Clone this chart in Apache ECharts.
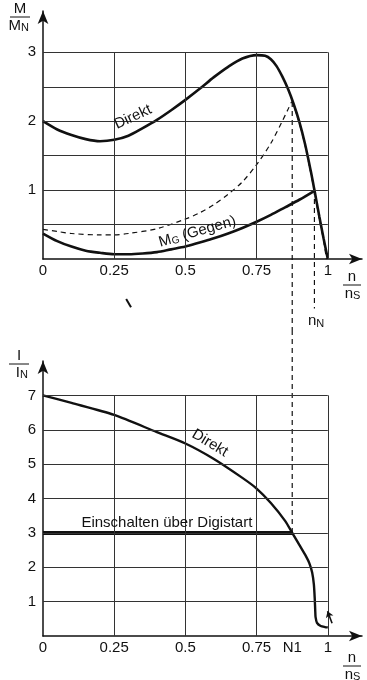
<!DOCTYPE html>
<html>
<head>
<meta charset="utf-8">
<script src="https://cdn.jsdelivr.net/npm/echarts@6/dist/echarts.min.js"></script>
<style>
html,body{margin:0;padding:0;background:#fff;}
#chart{width:367px;height:680px;}
</style>
</head>
<body>
<div id="chart"></div>
<script>
// ---- tick labels / grid levels ----
const xTicks = [0, 0.25, 0.5, 0.75, 1];
const xTickText = ['0', '0.25', '0.5', '0.75', '1'];
const torqueTicks = [1, 2, 3];
const torqueGridLevels = [0.5, 1, 1.5, 2, 2.5, 3];
const currentTicks = [1, 2, 3, 4, 5, 6, 7];
const speedN1 = 0.875;        // N1 (Digistart hand-over speed)
const speedNominal = 0.953;   // n_N

// ---- torque, direct start (M/MN) ----
const torqueDirektX = [0, 0.05, 0.10, 0.15, 0.20, 0.25, 0.30, 0.35, 0.40, 0.45, 0.50, 0.55, 0.60, 0.65, 0.70, 0.75, 0.78, 0.80, 0.82, 0.84, 0.86, 0.88, 0.90, 0.92, 0.94, 0.953, 0.97, 0.985, 1.0];
const torqueDirektY = [2.00, 1.88, 1.80, 1.74, 1.71, 1.73, 1.79, 1.90, 2.02, 2.16, 2.31, 2.47, 2.64, 2.79, 2.91, 2.96, 2.95, 2.90, 2.80, 2.65, 2.47, 2.25, 1.99, 1.67, 1.28, 1.00, 0.62, 0.30, 0.0];

// ---- torque with Digistart (dashed) ----
const torqueSoftX = [0, 0.05, 0.10, 0.20, 0.25, 0.30, 0.40, 0.50, 0.55, 0.60, 0.65, 0.70, 0.75, 0.80, 0.84, 0.86, 0.874, 0.89, 0.90, 0.92, 0.94, 0.953, 0.97, 0.985, 0.995];
const torqueSoftY = [0.43, 0.40, 0.37, 0.35, 0.35, 0.37, 0.44, 0.58, 0.67, 0.79, 0.94, 1.12, 1.37, 1.68, 2.00, 2.17, 2.28, 2.10, 1.97, 1.65, 1.25, 0.98, 0.58, 0.27, 0.0];

// ---- counter torque MG (Gegen) ----
const torqueLoadX = [0, 0.05, 0.10, 0.15, 0.20, 0.25, 0.30, 0.35, 0.40, 0.45, 0.50, 0.55, 0.60, 0.65, 0.70, 0.75, 0.80, 0.85, 0.90, 0.953];
const torqueLoadY = [0.37, 0.26, 0.18, 0.12, 0.09, 0.07, 0.07, 0.08, 0.10, 0.14, 0.18, 0.24, 0.30, 0.37, 0.45, 0.54, 0.64, 0.75, 0.86, 0.99];

// ---- current, direct start (I/IN) ----
const currentDirektX = [0, 0.10, 0.25, 0.40, 0.50, 0.60, 0.70, 0.75, 0.80, 0.85, 0.875, 0.90, 0.924, 0.935, 0.945, 0.951, 0.954, 0.956, 0.957, 0.962, 0.975, 0.99, 1.0];
const currentDirektY = [7.0, 6.78, 6.43, 5.93, 5.60, 5.15, 4.60, 4.29, 3.87, 3.35, 3.0, 2.65, 2.31, 2.12, 1.85, 1.5, 1.1, 0.7, 0.55, 0.38, 0.29, 0.26, 0.25];

// ---- current limit with Digistart ----
const currentLimitX = [0, speedN1];
const currentLimitY = [3, 3];

// ---- annotation anchors (data space) ----
const nominalLabelAt = [0.956, -0.9];
const scanMarkFrom = [0.292, -0.58];
const scanMarkTo = [0.309, -0.70];

const zip = (xs, ys) => xs.map((x, i) => [x, ys[i]]);
const FONT = 'Liberation Sans';
const INK = '#111';

function gridLines(xs, yLevels, yTop) {
  const d = [];
  xs.forEach(x => d.push([{coord: [x, 0]}, {coord: [x, yTop]}]));
  yLevels.forEach(y => d.push([{coord: [0, y]}, {coord: [1, y]}]));
  return {
    silent: true, symbol: ['none', 'none'], animation: false,
    label: {show: false}, emphasis: {disabled: true},
    lineStyle: {color: '#333', width: 1, type: 'solid'},
    data: d
  };
}

function curveLabel(coord, text, rotate, rich, size) {
  return {
    silent: true, symbol: 'circle', symbolSize: 0, animation: false,
    data: [{coord: coord, value: 0}],
    label: {
      show: true, position: 'inside', rotate: rotate, formatter: text,
      fontFamily: FONT, fontSize: size || 15, color: INK, rich: rich || {}
    }
  };
}

const chart = echarts.init(document.getElementById('chart'), null, {renderer: 'canvas'});

function xAxisCfg(gridIndex, values, textMap) {
  return {
    type: 'value', gridIndex: gridIndex, min: 0, max: 1.12,
    axisLine: {show: true, lineStyle: {color: INK, width: 1.5}, symbol: ['none', 'arrow'], symbolSize: [8, 13]},
    axisTick: {show: false},
    splitLine: {show: false},
    axisLabel: {
      customValues: values, margin: 4, color: INK, fontFamily: FONT, fontSize: 15,
      formatter: v => textMap[values.indexOf(v)]
    }
  };
}
function yAxisCfg(gridIndex, max, values) {
  return {
    type: 'value', gridIndex: gridIndex, min: 0, max: max,
    axisLine: {show: true, lineStyle: {color: INK, width: 1.5}, symbol: ['none', 'arrow'], symbolSize: [8, 13]},
    axisTick: {show: false},
    splitLine: {show: false},
    axisLabel: {customValues: values, margin: 7, color: INK, fontFamily: FONT, fontSize: 15}
  };
}

const bottomXTicks = xTicks.slice(0, 4).concat([speedN1, 1]);
const bottomXText = xTickText.slice(0, 4).concat(['N1', '1']);

function frac(cx, top, barY, bot, subBot, barHalf) {
  const els = [];
  els.push({type: 'text', style: {text: top, x: cx, y: barY - 8, align: 'center', verticalAlign: 'middle', font: '15px "' + FONT + '"', fill: INK}});
  els.push({type: 'line', shape: {x1: cx - barHalf, y1: barY, x2: cx + barHalf, y2: barY}, style: {stroke: INK, lineWidth: 1}});
  els.push({type: 'text', style: {text: bot, x: cx + 1, y: barY + 9, align: 'right', verticalAlign: 'middle', font: '15px "' + FONT + '"', fill: INK}});
  els.push({type: 'text', style: {text: subBot, x: cx + 1, y: barY + 11, align: 'left', verticalAlign: 'middle', font: '11px "' + FONT + '"', fill: INK}});
  return els;
}

const titleGraphics = [].concat(
  frac(20, 'M', 17, 'M', 'N', 10),
  frac(352, 'n', 285, 'n', 'S', 9),
  frac(19, 'I', 364, 'I', 'N', 10),
  frac(352, 'n', 666, 'n', 'S', 9)
);

chart.setOption({
  animation: false,
  backgroundColor: '#fff',
  grid: [
    {left: 43, top: 11, width: 319, height: 248},
    {left: 43, top: 361, width: 319, height: 275}
  ],
  xAxis: [xAxisCfg(0, xTicks, xTickText), xAxisCfg(1, bottomXTicks, bottomXText)],
  yAxis: [yAxisCfg(0, 3.6, torqueTicks), yAxisCfg(1, 8, currentTicks)],
  series: [
    {
      name: 'Direkt M', type: 'line', xAxisIndex: 0, yAxisIndex: 0,
      data: zip(torqueDirektX, torqueDirektY), smooth: 0.3,
      showSymbol: false, lineStyle: {color: INK, width: 2.6}, z: 3,
      markLine: gridLines(xTicks.slice(1), torqueGridLevels, 3),
      markPoint: curveLabel([0.316, 2.06], 'Direkt', 25)
    },
    {
      name: 'Digistart M', type: 'line', xAxisIndex: 0, yAxisIndex: 0,
      data: zip(torqueSoftX, torqueSoftY), smooth: 0.3,
      showSymbol: false, lineStyle: {color: INK, width: 1.2, type: [5, 4]}, z: 3
    },
    {
      name: 'MG', type: 'line', xAxisIndex: 0, yAxisIndex: 0,
      data: zip(torqueLoadX, torqueLoadY), smooth: 0.3,
      showSymbol: false, lineStyle: {color: INK, width: 2.6}, z: 3,
      markPoint: curveLabel([0.541, 0.41], '{m|M}{g|G} {m|(Gegen)}', 16,
        {m: {fontFamily: FONT, fontSize: 15, color: INK, lineHeight: 17, verticalAlign: 'bottom'},
         g: {fontFamily: FONT, fontSize: 10, color: INK, lineHeight: 17, verticalAlign: 'bottom'}})
    },
    {
      name: 'nN', type: 'line', xAxisIndex: 0, yAxisIndex: 0, clip: false,
      data: [[speedNominal, 1], [speedNominal, -0.72]],
      showSymbol: false, lineStyle: {color: INK, width: 1.2, type: [5, 4]}, z: 2
    },
    {
      name: 'N1 top', type: 'line', xAxisIndex: 0, yAxisIndex: 0, clip: false,
      data: [[speedN1, 2.28], [speedN1, -1.03]],
      showSymbol: false, lineStyle: {color: INK, width: 1.2, type: [5, 4]}, z: 2
    },
    {
      name: 'Direkt I', type: 'line', xAxisIndex: 1, yAxisIndex: 1,
      data: zip(currentDirektX, currentDirektY), smooth: 0.25,
      showSymbol: false, lineStyle: {color: INK, width: 2.4}, z: 3,
      markLine: gridLines(xTicks.slice(1), currentTicks, 7),
      markPoint: curveLabel([0.586, 5.61], 'Direkt', -31)
    },
    {
      name: 'Digistart I', type: 'line', xAxisIndex: 1, yAxisIndex: 1,
      data: zip(currentLimitX, currentLimitY),
      showSymbol: false, lineStyle: {color: INK, width: 4}, z: 3,
      markPoint: curveLabel([0.435, 3.3], 'Einschalten über Digistart', 0),
      markLine: {
        silent: true, symbol: ['none', 'arrow'], symbolSize: 6, animation: false, label: {show: false},
        lineStyle: {color: INK, width: 1.6, type: 'solid'},
        data: [[{coord: [1.015, 0.37]}, {coord: [0.999, 0.72]}]]
      }
    },
    {
      name: 'N1 bottom', type: 'line', xAxisIndex: 1, yAxisIndex: 1, clip: false,
      data: [[speedN1, 3], [speedN1, 8.9]],
      showSymbol: false, lineStyle: {color: INK, width: 1.2, type: [5, 4]}, z: 2
    }
  ],
  graphic: titleGraphics
});

// annotations outside the plot area, positioned through the axis scales
const pLabel = chart.convertToPixel({gridIndex: 0}, nominalLabelAt);
const pA = chart.convertToPixel({gridIndex: 0}, scanMarkFrom);
const pB = chart.convertToPixel({gridIndex: 0}, scanMarkTo);
chart.setOption({
  graphic: titleGraphics.concat([
    {type: 'text', style: {text: 'n', x: pLabel[0] + 1, y: pLabel[1], align: 'right', verticalAlign: 'middle', font: '15px "' + FONT + '"', fill: INK}},
    {type: 'text', style: {text: 'N', x: pLabel[0] + 1, y: pLabel[1] + 3, align: 'left', verticalAlign: 'middle', font: '11px "' + FONT + '"', fill: INK}},
    {type: 'line', shape: {x1: pA[0], y1: pA[1], x2: pB[0], y2: pB[1]}, style: {stroke: INK, lineWidth: 2}}
  ])
});
</script>
</body>
</html>
